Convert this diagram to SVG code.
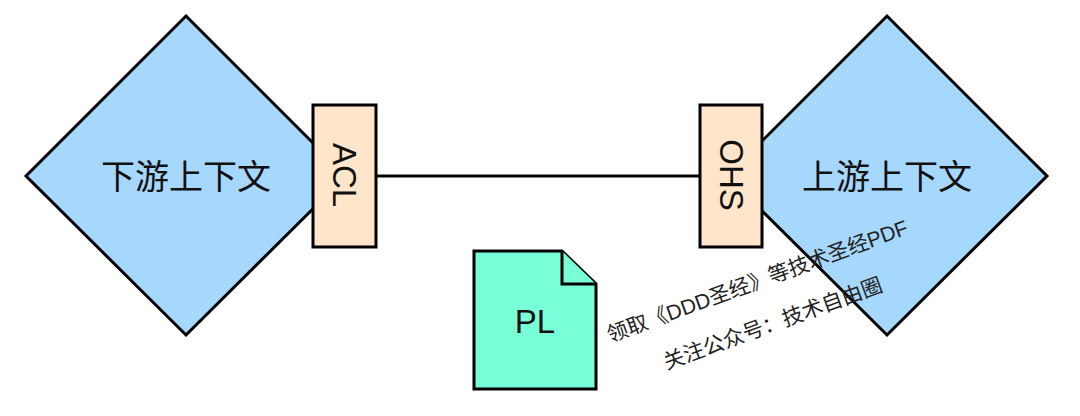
<svg xmlns="http://www.w3.org/2000/svg" width="1080" height="416" viewBox="0 0 1080 416">
  <style>
    .shape { stroke: #000; stroke-width: 3; stroke-linejoin: miter; }
    .ctx { fill: #a6d7fd; }
    .port { fill: #ffe5c9; }
    .doc { fill: #78ffd8; }
    .label { font-family: "Liberation Sans", "Noto Sans CJK SC", sans-serif; fill: #111; text-anchor: middle; dominant-baseline: central; }
    .big { font-size: 34px; }
    .mid { font-size: 33px; }
    .note { font-family: "Liberation Sans", "Noto Sans CJK SC", sans-serif; font-size: 21px; fill: #222; text-anchor: middle; }
    .link { stroke: #000; stroke-width: 3; fill: none; }
  </style>

  <!-- connectors -->
  <g id="connectors">
    <line class="link" x1="376" y1="176" x2="701" y2="176"/>
  </g>

  <!-- downstream context -->
  <g id="downstream">
    <polygon class="shape ctx" points="186,16 346,176 186,335 26,176"/>
    <text class="label big" x="186" y="177">下游上下文</text>
  </g>

  <!-- upstream context -->
  <g id="upstream">
    <polygon class="shape ctx" points="887,16 1047,176 887,335 727,176"/>
    <text class="label big" x="887" y="177">上游上下文</text>
  </g>

  <!-- anti-corruption layer -->
  <g id="acl">
    <rect class="shape port" x="313" y="105" width="63" height="142"/>
    <text class="label mid" transform="translate(344.5,175) rotate(90)" x="0" y="0">ACL</text>
  </g>

  <!-- open host service -->
  <g id="ohs">
    <rect class="shape port" x="700" y="105" width="62" height="142"/>
    <text class="label mid" transform="translate(731,175) rotate(90)" x="0" y="0">OHS</text>
  </g>

  <!-- published language -->
  <g id="pl">
    <path class="shape doc" d="M474,251 H562 L596,284 V389 H474 Z"/>
    <path class="shape doc" d="M562,251 V284 H596"/>
    <text class="label mid" x="535" y="321">PL</text>
  </g>

  <!-- tilted footnote -->
  <g id="footnote" transform="translate(760,288) rotate(-20)">
    <text class="note" x="0" y="0">领取《DDD圣经》等技术圣经PDF</text>
    <text class="note" x="0" y="45">关注公众号：技术自由圈</text>
  </g>
</svg>
